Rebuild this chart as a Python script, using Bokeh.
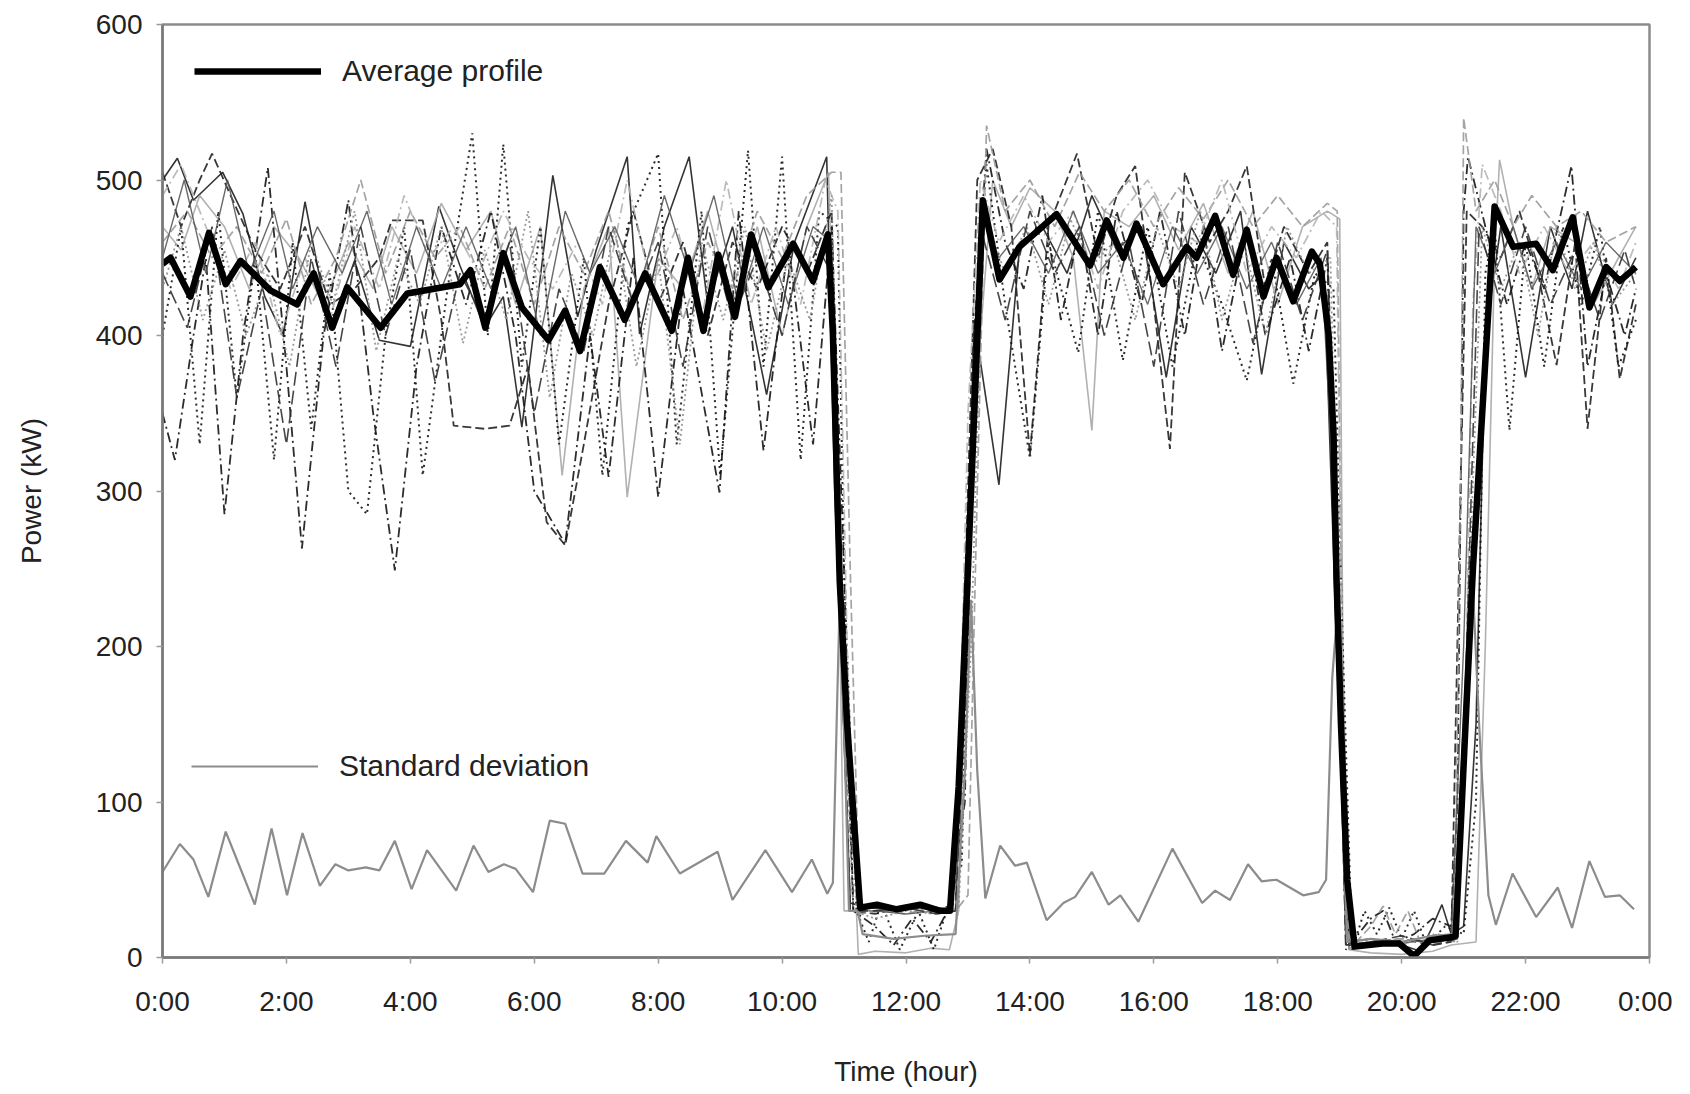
from bokeh.plotting import figure
from bokeh.models import (FixedTicker, Range1d, Legend, LegendItem)
from bokeh.embed import file_html
from bokeh.resources import INLINE

# ---------------- data (hours, kW) ----------------
x_ticks = [0, 2, 4, 6, 8, 10, 12, 14, 16, 18, 20, 22, 24]
x_tick_labels = ["0:00", "2:00", "4:00", "6:00", "8:00", "10:00", "12:00",
                 "14:00", "16:00", "18:00", "20:00", "22:00", "0:00"]
y_ticks = [0, 100, 200, 300, 400, 500, 600]

avg_t = [0, 0.13, 0.45, 0.75, 1.02, 1.26, 1.74, 2.17, 2.44, 2.74, 2.98, 3.52, 3.95,
         4.8, 4.97, 5.21, 5.5, 5.8, 6.23, 6.5, 6.74, 7.06, 7.46, 7.79, 8.22, 8.48,
         8.73, 8.97, 9.24, 9.5, 9.78, 10.18, 10.5, 10.74, 10.82, 10.93, 11.05, 11.26,
         11.53, 11.85, 12.23, 12.55, 12.71, 12.85, 13.0, 13.24, 13.51, 13.83, 14.43,
         14.97, 15.24, 15.51, 15.72, 16.15, 16.53, 16.69, 16.99, 17.28, 17.5, 17.77,
         17.98, 18.25, 18.55, 18.68, 18.82, 18.9, 18.95, 19.02, 19.12, 19.24, 19.69,
         19.96, 20.2, 20.45, 20.8, 20.87, 21.15, 21.5, 21.8, 22.17, 22.44, 22.76,
         23.03, 23.3, 23.52, 23.78]
avg_v = [446, 450, 425, 466, 433, 448, 429, 420, 440, 405, 431, 405, 427,
         433, 442, 405, 453, 418, 397, 416, 390, 444, 410, 440, 403, 450,
         403, 452, 412, 465, 431, 459, 435, 465, 401, 242, 150, 32,
         34, 31, 34, 30, 30, 110, 250, 487, 436, 457, 478,
         445, 474, 450, 472, 433, 457, 450, 477, 439, 468, 425,
         450, 422, 454, 446, 401, 337, 242, 150, 50, 7, 9,
         9, 1, 11, 13, 14, 250, 483, 457, 459, 442, 476,
         418, 444, 435, 444]

std_t = [0, 0.28, 0.5, 0.74, 1.02, 1.24, 1.49, 1.76, 2.01, 2.26, 2.54, 2.79, 3.0,
         3.28, 3.5, 3.75, 4.02, 4.27, 4.74, 5.02, 5.26, 5.51, 5.7, 5.98, 6.25, 6.5,
         6.78, 7.13, 7.48, 7.83, 7.97, 8.35, 8.96, 9.2, 9.73, 10.16, 10.48, 10.73,
         10.82, 10.88, 10.93, 11.0, 11.08, 11.22, 11.3, 11.8, 12.3, 12.8, 12.95,
         13.05, 13.15, 13.28, 13.52, 13.76, 13.95, 14.27, 14.54, 14.73, 15.0, 15.27,
         15.46, 15.75, 16.3, 16.78, 16.99, 17.23, 17.52, 17.74, 17.98, 18.41, 18.66,
         18.78, 18.88, 18.96, 19.04, 19.12, 19.5, 20.0, 20.5, 20.85, 21.0, 21.13,
         21.25, 21.4, 21.52, 21.79, 22.17, 22.52, 22.75, 23.03, 23.28, 23.52, 23.75]
std_v = [55, 73, 63, 39, 81, 59, 34, 83, 40, 80, 46, 60, 56,
         58, 56, 75, 44, 69, 43, 72, 55, 60, 57, 42, 88, 86,
         54, 54, 75, 61, 78, 54, 68, 37, 69, 42, 63, 41,
         48, 150, 230, 150, 30, 30, 15, 12, 14, 15, 120,
         230, 120, 38, 72, 59, 61, 24, 35, 39, 55, 34,
         40, 23, 70, 35, 43, 37, 60, 49, 50, 40, 42,
         50, 180, 222, 100, 10, 12, 10, 14, 15, 150, 255,
         150, 40, 21, 54, 26, 45, 19, 62, 39, 40, 31]

# individual daily profiles
day1_t = [0, 0.24, 0.5, 0.97, 1.3, 1.65, 1.95, 2.3, 2.7, 3.1, 3.5, 4.0, 4.46, 4.8, 5.2,
          5.5, 5.8, 6.3, 6.7, 7.0, 7.5, 7.7, 8.1, 8.5, 8.8, 9.2, 9.75, 10.2, 10.72,
          10.85, 11.1, 11.4, 11.9, 12.4, 12.75, 12.95, 13.1, 13.5, 13.84, 14.2, 14.6,
          15.0, 15.4, 15.8, 16.2, 16.6, 17.0, 17.4, 17.74, 18.1, 18.5, 18.75, 18.95,
          19.15, 19.5, 20.0, 20.3, 20.5, 20.65, 20.8, 21.0, 21.2, 21.35, 21.6, 22.0,
          22.4, 22.75, 23.0, 23.4, 23.78]
day1_v = [500, 514, 487, 505, 478, 425, 400, 486, 404, 448, 397, 393, 483, 445, 405,
          425, 341, 503, 412, 455, 515, 401, 470, 515, 420, 470, 362, 460, 515,
          300, 35, 32, 30, 33, 30, 200, 410, 304, 460, 470, 440,
          490, 455, 470, 373, 470, 440, 480, 375, 460, 430, 440, 200,
          10, 12, 8, 4, 20, 34, 15, 20, 150, 400, 470, 373,
          470, 430, 480, 420, 450]

day2_t = [0, 0.3, 0.6, 1.0, 1.4, 1.8, 2.2, 2.6, 3.0, 3.4, 3.7, 4.1, 4.5, 4.9, 5.3,
          5.7, 6.1, 6.45, 6.8, 7.2, 7.5, 8.0, 8.4, 8.8, 9.2, 9.6, 10.0, 10.4, 10.75,
          10.9, 11.0, 11.2, 11.23, 11.5, 12.0, 12.4, 12.7, 12.85, 12.95, 13.2, 13.4,
          13.7, 14.0, 14.4, 14.7, 15.0, 15.2, 15.6, 16.0, 16.4, 16.8, 17.2, 17.6,
          18.0, 18.4, 18.8, 19.0, 19.05, 19.15, 19.5, 20.0, 20.5, 20.8, 21.2, 21.35,
          21.5, 21.58, 21.8, 22.1, 22.4, 22.8, 23.1, 23.5, 23.78]
day2_v = [470, 455, 490, 470, 430, 470, 450, 420, 460, 430, 470, 440, 485, 455, 480,
          420, 470, 310, 430, 470, 296, 450, 430, 480, 420, 470, 400, 470, 505,
          300, 30, 30, 2, 4, 3, 6, 5, 30, 200, 400, 500,
          470, 495, 480, 450, 339, 480, 470, 490, 455, 485, 440, 480,
          420, 470, 480, 475, 200, 5, 3, 2, 4, 8, 10, 200,
          450, 513, 470, 430, 470, 460, 420, 450, 470]

day3_t = [0, 0.3, 0.6, 0.8, 1.1, 1.5, 1.9, 2.3, 2.7, 3.1, 3.5, 3.7, 4.2, 4.5, 4.7,
          5.2, 5.6, 5.9, 6.2, 6.5, 6.8, 7.2, 7.6, 8.0, 8.4, 8.8, 9.2, 9.6, 10.0,
          10.4, 10.8, 10.95, 11.15, 11.5, 12.0, 12.5, 12.8, 13.0, 13.15, 13.4, 13.7,
          14.0, 14.3, 14.76, 15.1, 15.4, 15.7, 16.0, 16.26, 16.5, 16.9, 17.2, 17.5,
          17.8, 18.1, 18.5, 18.8, 19.0, 19.15, 19.5, 20.0, 20.5, 20.8, 20.95, 21.05,
          21.3, 21.6, 21.9, 22.2, 22.5, 22.8, 23.0, 23.3, 23.52, 23.78]
day3_v = [505, 470, 500, 517, 490, 455, 430, 470, 420, 430, 450, 474, 474, 410, 342,
          340, 342, 380, 280, 265, 330, 420, 480, 420, 460, 400, 460, 430, 470,
          440, 480, 250, 30, 28, 33, 30, 35, 300, 500, 520, 470,
          323, 470, 517, 450, 490, 509, 420, 327, 505, 460, 480, 509,
          430, 470, 440, 460, 200, 8, 10, 12, 8, 10, 300, 480,
          470, 450, 480, 440, 381, 460, 340, 450, 372, 420]

day4_t = [0, 0.2, 0.5, 0.7, 1.0, 1.3, 1.7, 2.0, 2.25, 2.6, 3.0, 3.4, 3.75, 4.1, 4.5,
          4.9, 5.3, 5.7, 6.0, 6.5, 6.9, 7.2, 7.6, 8.0, 8.4, 8.99, 9.3, 9.7, 10.1,
          10.5, 10.8, 11.0, 11.15, 11.5, 11.8, 12.1, 12.4, 12.7, 12.95, 13.1, 13.3,
          13.6, 13.9, 14.2, 14.5, 14.8, 15.1, 15.4, 15.8, 16.1, 16.5, 16.8, 17.1,
          17.5, 17.8, 18.2, 18.5, 18.8, 18.95, 19.1, 19.5, 19.7, 19.9, 20.2, 20.5,
          20.8, 20.9, 21.0, 21.07, 21.42, 21.7, 22.0, 22.3, 22.74, 23.0, 23.3, 23.6,
          23.78]
day4_v = [350, 320, 400, 450, 285, 400, 508, 380, 263, 400, 487, 350, 249, 380, 470,
          420, 480, 400, 300, 266, 400, 309, 450, 296, 430, 299, 480, 326, 460,
          330, 470, 250, 30, 20, 8, 25, 10, 32, 100, 400, 520,
          460, 430, 490, 410, 470, 400, 480, 420, 480, 400, 470, 390,
          470, 400, 450, 390, 450, 250, 5, 25, 30, 10, 15, 25,
          20, 100, 480, 515, 459, 420, 460, 430, 509, 380, 440, 400,
          430]

day5_t = [0, 0.3, 0.6, 0.9, 1.2, 1.5, 1.8, 2.1, 2.4, 2.7, 3.0, 3.3, 3.6, 3.9, 4.2,
          4.6, 5.0, 5.25, 5.5, 5.8, 6.1, 6.4, 6.8, 7.1, 7.5, 8.0, 8.3, 8.7, 9.0,
          9.45, 9.7, 10.0, 10.3, 10.6, 10.9, 11.0, 11.2, 11.4, 11.6, 11.9, 12.2,
          12.45, 12.7, 12.9, 13.1, 13.3, 13.6, 14.0, 14.3, 14.78, 15.1, 15.5, 15.9,
          16.3, 16.7, 17.1, 17.5, 17.9, 18.25, 18.6, 18.9, 19.05, 19.2, 19.4, 19.6,
          19.8, 20.0, 20.2, 20.4, 20.7, 21.0, 21.2, 21.35, 21.5, 21.74, 22.0, 22.3,
          22.6, 22.9, 23.2, 23.5, 23.78]
day5_v = [400, 470, 330, 480, 360, 450, 320, 460, 340, 440, 300, 285, 400, 470, 310,
          430, 530, 400, 523, 380, 470, 330, 450, 310, 470, 517, 330, 480, 310,
          519, 380, 515, 320, 480, 470, 250, 30, 10, 35, 5, 30,
          5, 35, 60, 400, 510, 420, 321, 460, 389, 480, 384, 470,
          380, 460, 420, 371, 450, 369, 440, 430, 200, 5, 30, 15,
          32, 12, 30, 8, 20, 15, 100, 440, 470, 339, 460, 380,
          470, 420, 470, 380, 410]

day6_t = [0, 0.4, 0.8, 1.2, 1.6, 2.0, 2.4, 2.8, 3.2, 3.6, 4.0, 4.4, 4.8, 5.2, 5.6,
          6.0, 6.4, 6.8, 7.2, 7.6, 8.0, 8.4, 8.8, 9.2, 9.6, 10.0, 10.4, 10.8, 10.95,
          11.1, 11.25, 11.6, 12.0, 12.4, 12.8, 13.0, 13.15, 13.3, 13.6, 14.0, 14.4,
          14.8, 15.2, 15.6, 16.0, 16.4, 16.8, 17.2, 17.6, 18.0, 18.4, 18.8, 18.96,
          19.05, 19.15, 19.5, 19.7, 19.9, 20.1, 20.3, 20.6, 20.85, 20.95, 21.0, 21.2,
          21.5, 21.8, 22.1, 22.5, 22.9, 23.3, 23.78]
day6_v = [460, 480, 450, 470, 440, 475, 420, 450, 500, 440, 480, 450, 470, 430, 470,
          420, 470, 440, 480, 420, 470, 410, 460, 430, 480, 450, 490, 505, 505,
          250, 28, 30, 28, 32, 30, 40, 300, 535, 480, 500, 470,
          505, 480, 500, 470, 495, 475, 500, 470, 490, 470, 485, 480,
          150, 5, 20, 33, 15, 30, 10, 15, 10, 300, 540, 480,
          500, 470, 490, 470, 480, 460, 470]

day7_t = [0, 0.3, 0.7, 1.1, 1.5, 1.9, 2.3, 2.7, 3.1, 3.5, 3.9, 4.3, 4.7, 5.1, 5.5,
          5.9, 6.3, 6.7, 7.1, 7.5, 7.9, 8.3, 8.7, 9.1, 9.5, 9.9, 10.3, 10.7, 10.9,
          11.05, 11.2, 11.6, 12.0, 12.4, 12.8, 13.0, 13.2, 13.5, 13.9, 14.3, 14.7,
          15.1, 15.5, 15.9, 16.3, 16.7, 17.1, 17.5, 17.9, 18.3, 18.7, 18.95, 19.05,
          19.2, 19.5, 20.0, 20.5, 20.8, 21.0, 21.15, 21.3, 21.6, 21.9, 22.3, 22.7,
          23.1, 23.5, 23.78]
day7_v = [490, 510, 470, 430, 460, 400, 450, 410, 470, 430, 490, 450, 470, 440, 480,
          450, 430, 460, 420, 500, 430, 470, 410, 500, 420, 470, 420, 500, 480,
          200, 30, 30, 32, 28, 30, 350, 500, 460, 490, 460, 480,
          430, 480, 500, 470, 460, 500, 440, 470, 450, 480, 470, 150,
          8, 10, 12, 9, 12, 100, 420, 510, 480, 440, 470, 440,
          460, 430, 460]

day8_t = [0, 0.35, 0.7, 1.05, 1.4, 1.8, 2.1, 2.5, 2.9, 3.3, 3.7, 4.1, 4.5, 4.9, 5.3,
          5.7, 6.1, 6.5, 6.9, 7.3, 7.7, 8.1, 8.5, 8.9, 9.3, 9.7, 10.1, 10.5, 10.8,
          10.95, 11.1, 11.5, 12.0, 12.5, 12.8, 13.0, 13.2, 13.5, 13.9, 14.3, 14.7,
          15.1, 15.5, 15.9, 16.3, 16.7, 17.1, 17.5, 17.9, 18.3, 18.7, 18.9, 19.1,
          19.5, 20.0, 20.5, 20.8, 21.0, 21.2, 21.5, 21.8, 22.1, 22.5, 22.9, 23.3,
          23.78]
day8_v = [450, 500, 440, 500, 440, 480, 430, 470, 440, 480, 420, 470, 430, 470, 430,
          470, 400, 480, 440, 470, 430, 490, 440, 490, 420, 470, 420, 470, 460,
          200, 30, 30, 28, 30, 30, 250, 480, 450, 470, 440, 480,
          440, 460, 420, 470, 440, 470, 430, 460, 420, 450, 300, 8,
          10, 9, 12, 12, 200, 470, 440, 470, 430, 460, 430, 460,
          440]

day9_t = [0, 0.3, 0.65, 1.0, 1.35, 1.7, 2.05, 2.4, 2.75, 3.1, 3.45, 3.8, 4.15, 4.5,
          4.85, 5.2, 5.55, 5.9, 6.25, 6.6, 6.95, 7.3, 7.65, 8.0, 8.35, 8.7, 9.05,
          9.4, 9.75, 10.1, 10.45, 10.8, 10.95, 11.15, 11.5, 12.0, 12.5, 12.85, 13.05,
          13.25, 13.6, 13.95, 14.3, 14.65, 15.0, 15.35, 15.7, 16.05, 16.4, 16.75,
          17.1, 17.45, 17.8, 18.15, 18.5, 18.85, 19.0, 19.15, 19.5, 20.0, 20.5, 20.9,
          21.1, 21.3, 21.6, 21.9, 22.2, 22.5, 22.8, 23.1, 23.4, 23.78]
day9_v = [430, 470, 410, 455, 400, 440, 380, 460, 420, 480, 390, 450, 420, 470,
          395, 455, 410, 480, 360, 440, 400, 470, 380, 450, 330, 460, 410,
          470, 390, 450, 410, 490, 220, 30, 25, 30, 28, 32, 200,
          480, 440, 470, 420, 475, 445, 460, 410, 470, 430, 480,
          410, 460, 400, 470, 440, 450, 200, 6, 12, 8, 15, 10,
          250, 470, 430, 460, 400, 470, 430, 460, 420, 440]

day10_t = [0, 0.4, 0.8, 1.2, 1.6, 2.0, 2.4, 2.8, 3.2, 3.6, 4.0, 4.4, 4.8, 5.2, 5.6,
           6.0, 6.4, 6.8, 7.2, 7.6, 8.0, 8.4, 8.8, 9.2, 9.6, 10.0, 10.4, 10.8, 10.9,
           11.1, 11.5, 12.0, 12.5, 12.8, 13.0, 13.2, 13.6, 14.0, 14.4, 14.8, 15.2,
           15.6, 16.0, 16.4, 16.8, 17.2, 17.6, 18.0, 18.4, 18.8, 18.9, 19.1, 19.5,
           20.0, 20.5, 20.9, 21.05, 21.25, 21.6, 22.0, 22.4, 22.8, 23.2, 23.6, 23.78]
day10_v = [440, 405, 470, 360, 430, 330, 450, 380, 470, 400, 455, 370, 440, 410, 460,
           350, 430, 390, 470, 420, 460, 380, 470, 410, 450, 400, 470, 440, 300,
           30, 30, 32, 28, 30, 200, 470, 410, 480, 440, 470, 400,
           460, 380, 480, 420, 470, 395, 460, 410, 455, 300, 8, 10,
           14, 8, 12, 200, 470, 420, 470, 420, 455, 410, 455, 430]

# ---------------- figure ----------------
FONT = "Liberation Sans"

p = figure(width=1672, height=1090, output_backend="svg", toolbar_location=None,
           x_range=Range1d(0, 24), y_range=Range1d(0, 600),
           min_border_left=162, min_border_right=23, min_border_top=24,
           min_border_bottom=133)

p.xgrid.visible = False
p.ygrid.visible = False
p.outline_line_color = "#8c8c8c"
p.outline_line_width = 2.5
p.background_fill_color = "white"
p.border_fill_color = "white"

styles = [
    (day1_t, day1_v, "#1e1e1e", 1.6, "solid"),
    (day2_t, day2_v, "#a8a8a8", 1.6, "solid"),
    (day3_t, day3_v, "#222222", 1.8, "9 4"),
    (day4_t, day4_v, "#151515", 1.8, "10 4 2 4"),
    (day5_t, day5_v, "#151515", 2.0, "2 4"),
    (day6_t, day6_v, "#9a9a9a", 1.7, "9 4"),
    (day7_t, day7_v, "#b4b4b4", 1.7, "10 4 2 4"),
    (day8_t, day8_v, "#5a5a5a", 1.4, "solid"),
    (day9_t, day9_v, "#8f8f8f", 1.8, "2 3"),
    (day10_t, day10_v, "#333333", 1.6, "14 5"),
]
for t, v, c, w, d in styles:
    p.line(t, v, line_color=c, line_width=w, line_dash=d, line_alpha=0.9)

std_r = p.line(std_t, std_v, line_color="#8c8c8c", line_width=2.2)
avg_r = p.line(avg_t, avg_v, line_color="black", line_width=6.5, line_join="round")

# axes
for ax in (p.xaxis[0], p.yaxis[0]):
    ax.axis_line_color = "#7a7a7a"
    ax.axis_line_width = 2.5
    ax.major_tick_line_color = "#9a9a9a"
    ax.major_tick_line_width = 1.5
    ax.major_tick_out = 6
    ax.major_tick_in = 0
    ax.minor_tick_line_color = None
    ax.major_label_text_font = FONT
    ax.major_label_text_font_size = "28px"
    ax.major_label_text_color = "#222222"
    ax.axis_label_text_font = FONT
    ax.axis_label_text_font_size = "28px"
    ax.axis_label_text_font_style = "normal"
    ax.axis_label_text_color = "#222222"

p.xaxis.ticker = FixedTicker(ticks=x_ticks)
p.xaxis.major_label_overrides = {t: s for t, s in zip(x_ticks, x_tick_labels)}
p.xaxis.major_label_standoff = 22
p.xaxis.axis_label = "Time (hour)"
p.xaxis.axis_label_standoff = 36
p.yaxis.ticker = FixedTicker(ticks=y_ticks)
p.yaxis.major_label_standoff = 14
p.yaxis.axis_label = "Power (kW)"
p.yaxis.axis_label_standoff = 46

leg1 = Legend(items=[LegendItem(label="Average profile", renderers=[avg_r])],
              location=(32, 869))
leg2 = Legend(items=[LegendItem(label="Standard deviation", renderers=[std_r])],
              location=(29, 174))
for lg in (leg1, leg2):
    lg.glyph_width = 127
    lg.glyph_height = 30
    lg.label_height = 30
    lg.label_standoff = 21
    lg.label_text_font = FONT
    lg.label_text_font_size = "30px"
    lg.label_text_color = "#222222"
    lg.border_line_alpha = 0
    lg.background_fill_alpha = 0
    lg.padding = 0
    lg.margin = 0
    lg.spacing = 0
    p.add_layout(lg)

open("out.html", "w").write(file_html(p, INLINE))
